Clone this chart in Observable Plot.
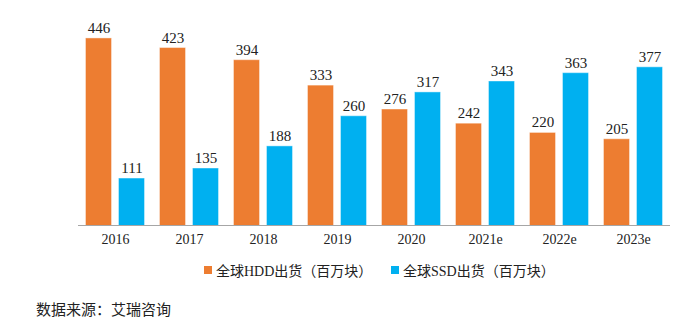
<!DOCTYPE html>
<html><head><meta charset="utf-8">
<script src="https://cdn.jsdelivr.net/npm/d3@7"></script>
<script src="https://cdn.jsdelivr.net/npm/@observablehq/plot@0.6"></script>
<style>
body{margin:0;background:#fff;font-family:"Liberation Serif","Noto Sans CJK SC",serif;}
#legend{display:flex;height:30px;align-items:center;font-size:14px;color:#222;}
.item{display:flex;align-items:center;position:absolute;}
.sw{width:8px;height:8px;margin-right:4px;}
#cap{position:absolute;left:36px;top:298px;font-size:15px;color:#222;}
</style></head>
<body>
<div id="chart"></div>
<div id="legend"></div>
<div id="cap">数据来源：艾瑞咨询</div>
<script>
const years = ["2016","2017","2018","2019","2020","2021e","2022e","2023e"];
const seriesNames = ["全球HDD出货（百万块）","全球SSD出货（百万块）"];
const hdd = [446,423,394,333,276,242,220,205];
const ssd = [111,135,188,260,317,343,363,377];
const colors = ["#ED7D31","#00B0F0"];

const data = [];
years.forEach((y,i)=>{
  data.push({year:y, series:seriesNames[0], value:hdd[i]});
  data.push({year:y, series:seriesNames[1], value:ssd[i]});
});

const chart = Plot.plot({
  width:700, height:252,
  marginLeft:78, marginRight:30, marginTop:20, marginBottom:27,
  style:{fontFamily:'"Liberation Serif","Noto Sans CJK SC",serif', fontSize:"14px", color:"#222"},
  fx:{domain:years, padding:0, label:null, tickSize:0, tickPadding:9, axis:"bottom", fontSize:14},
  x:{domain:seriesNames, padding:0.2424, axis:null},
  y:{domain:[0,490], axis:null},
  color:{domain:seriesNames, range:colors},
  marks:[
    Plot.barY(data,{fx:"year", x:"series", y:"value", fill:"series", stroke:"series", strokeOpacity:0.6}),
    Plot.text(data,{fx:"year", x:"series", y:"value", text:d=>String(d.value), lineAnchor:"bottom", dy:-6, fontSize:15, fill:"#222"}),
    Plot.ruleY([0],{stroke:"#A6A6A6", strokeWidth:1.2})
  ]
});
document.getElementById("chart").appendChild(chart);

const lg = document.getElementById("legend");
lg.style.position="relative";
const lefts=[204,391];
seriesNames.forEach((s,i)=>{
  const it=document.createElement("div");
  it.className="item";
  it.style.left=lefts[i]+"px";
  it.style.top="8px";
  const sw=document.createElement("div");
  sw.className="sw"; sw.style.background=colors[i];
  const t=document.createElement("span"); t.textContent=s;
  it.appendChild(sw); it.appendChild(t);
  lg.appendChild(it);
});
</script>
</body></html>
